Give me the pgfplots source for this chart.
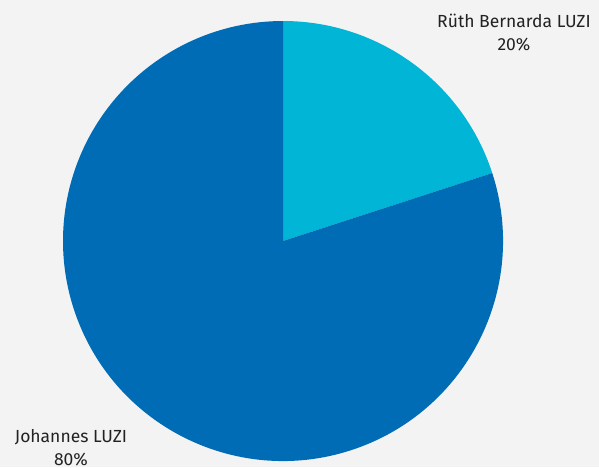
\documentclass[border=0pt]{standalone}
\usepackage{pgfplots}
\pgfplotsset{compat=1.18}
\usepackage{fontspec}
\setmainfont{Fira Sans}
\definecolor{bg}{HTML}{F3F3F3}
\definecolor{sliceA}{HTML}{00B5D5}
\definecolor{sliceB}{HTML}{006CB5}
\definecolor{txt}{HTML}{222222}
\begin{document}
\begin{tikzpicture}
% shares (percent)
\def\valA{20}% Rüth Bernarda LUZI
\def\valB{80}% Johannes LUZI
\pgfmathsetmacro\endA{90-3.6*\valA}
\pgfmathsetmacro\endB{\endA-3.6*\valB}
\begin{axis}[
  scale only axis,
  width=599pt, height=467pt,
  xmin=0, xmax=599, ymin=0, ymax=467,
  hide axis, clip=false,
]
\fill[bg] (axis cs:0,0) rectangle (axis cs:599,467);
\fill[sliceA] (axis cs:283,226) -- ++(90:220pt)
  arc[start angle=90, end angle=\endA, radius=220pt] -- cycle;
\fill[sliceB] (axis cs:283,226) -- ++(\endA:220pt)
  arc[start angle=\endA, end angle=\endB, radius=220pt] -- cycle;
\node[align=center, text=txt, font=\fontsize{17.5}{23}\selectfont]
  at (axis cs:514,434) {Rüth Bernarda LUZI\\\valA\%};
\node[align=center, text=txt, font=\fontsize{17.5}{23}\selectfont]
  at (axis cs:71,19) {Johannes LUZI\\\valB\%};
\end{axis}
\pgfresetboundingbox
\path (0,0) rectangle (599pt,467pt);
\end{tikzpicture}
\end{document}
